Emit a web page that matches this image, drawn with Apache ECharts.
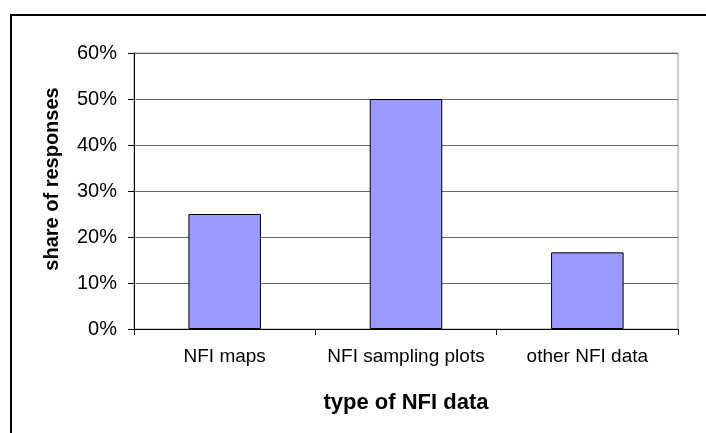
<!DOCTYPE html>
<html>
<head>
<meta charset="utf-8">
<script src="https://cdn.jsdelivr.net/npm/echarts@6/dist/echarts.min.js"></script>
<style>
  html, body { margin: 0; padding: 0; background: #ffffff; }
  #chart { width: 706px; height: 433px; }
</style>
</head>
<body>
<div id="chart"></div>
<script>
// Survey: which kind of National Forest Inventory data respondents use
const categories = ['NFI maps', 'NFI sampling plots', 'other NFI data'];
const shares = [0.25, 0.50, 0.1667];
const yTicks = [0, 0.1, 0.2, 0.3, 0.4, 0.5, 0.6];

const FONT = 'Arial, "Liberation Sans", sans-serif';

const chart = echarts.init(document.getElementById('chart'), null, { renderer: 'canvas' });

chart.setOption({
  backgroundColor: '#ffffff',
  animation: false,
  grid: { left: 134, top: 53, right: 28, bottom: 104, containLabel: false,
          show: true, borderColor: '#999999', borderWidth: 1 },
  graphic: [
    // frame around the chart area (left and top edges)
    { type: 'line', shape: { x1: 11, y1: 15, x2: 706, y2: 15 }, style: { stroke: '#000', lineWidth: 2 } },
    { type: 'line', shape: { x1: 11, y1: 14, x2: 11, y2: 433 }, style: { stroke: '#000', lineWidth: 2 } },
    // value axis title
    {
      type: 'text', x: 52, y: 179, rotation: Math.PI / 2,
      style: {
        text: 'share of responses', fontFamily: FONT, fontWeight: 'bold', fontSize: 20,
        fill: '#000', align: 'center', verticalAlign: 'middle'
      }
    }
  ],
  xAxis: {
    type: 'category',
    data: categories,
    name: 'type of NFI data',
    nameLocation: 'middle',
    nameGap: 63,
    nameTextStyle: { fontFamily: FONT, fontWeight: 'bold', fontSize: 22, color: '#000' },
    axisLine: { lineStyle: { color: '#000', width: 1 } },
    axisTick: { show: true, length: 6, interval: 0, alignWithLabel: false, lineStyle: { color: '#000' } },
    axisLabel: { fontFamily: FONT, fontSize: 19, color: '#000', margin: 18, interval: 0 },
    splitLine: { show: false }
  },
  yAxis: {
    type: 'value',
    min: yTicks[0],
    max: yTicks[yTicks.length - 1],
    interval: yTicks[1] - yTicks[0],
    axisLine: { show: true, lineStyle: { color: '#000', width: 1 } },
    axisTick: { show: true, length: 6, lineStyle: { color: '#000' } },
    axisLabel: {
      fontFamily: FONT, fontSize: 20, color: '#000', margin: 17,
      formatter: v => Math.round(v * 100) + '%'
    },
    splitLine: { show: true, lineStyle: { color: '#666666', width: 1 } }
  },
  series: [{
    type: 'bar',
    data: shares,
    barWidth: '40%',
    itemStyle: { color: '#9999FF', borderColor: '#000', borderWidth: 1 }
  }]
});
</script>
</body>
</html>
